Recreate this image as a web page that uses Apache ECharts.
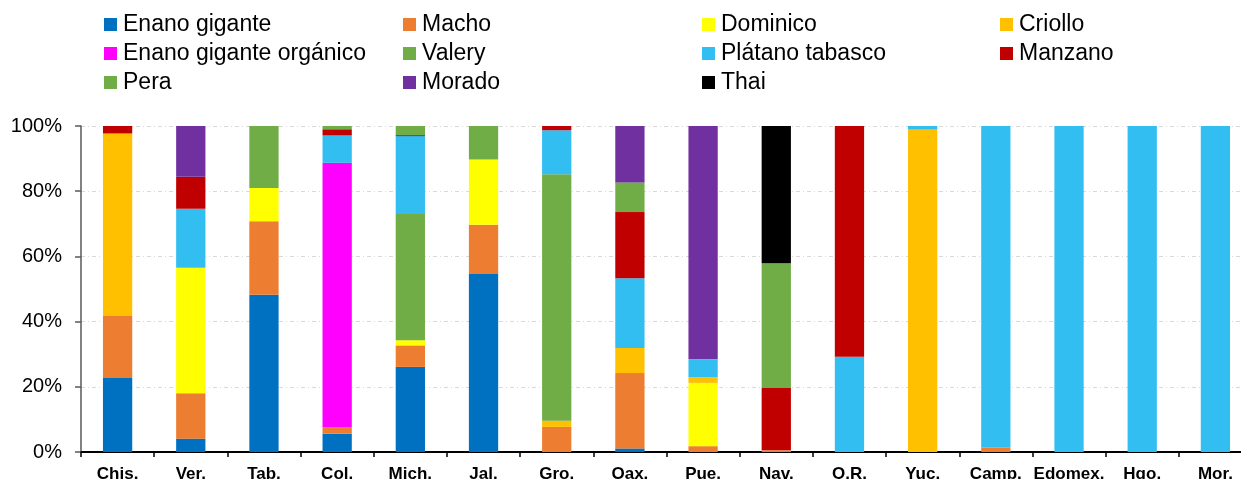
<!DOCTYPE html>
<html>
<head>
<meta charset="utf-8">
<script src="https://cdn.jsdelivr.net/npm/echarts@6/dist/echarts.min.js"></script>
<style>
  html, body { margin: 0; padding: 0; background: #fff; }
  #chart { width: 1241px; height: 479px; }
</style>
</head>
<body>
<div id="chart"></div>
<script>
// States (x axis)
var categories = ['Chis.', 'Ver.', 'Tab.', 'Col.', 'Mich.', 'Jal.', 'Gro.', 'Oax.', 'Pue.', 'Nav.', 'Q.R.', 'Yuc.', 'Camp.', 'Edomex.', 'Hgo.', 'Mor.'];

// Share of each banana variety per state (%)
var enanoGigante   = [22.7, 4.1, 48.2, 5.6, 26.1, 54.6, 0, 1.1, 0, 0, 0, 0, 0, 0, 0, 0];
var macho          = [19.0, 13.9, 22.6, 2.0, 6.6, 15.1, 7.7, 23.1, 1.8, 0.5, 0, 0, 1.4, 0, 0, 0];
var dominico       = [0, 38.5, 10.2, 0, 1.6, 20.0, 0, 0, 19.4, 0, 0, 0, 0, 0, 0, 0];
var criollo        = [56.0, 0, 0, 0, 0, 0, 1.9, 7.7, 1.7, 0, 0, 98.9, 0, 0, 0, 0];
var enanoOrganico  = [0, 0, 0, 81.1, 0, 0, 0, 0, 0, 0, 0, 0, 0, 0, 0, 0];
var valery         = [0, 0, 19.0, 0, 38.7, 10.3, 75.6, 0, 0, 0, 0, 0, 0, 0, 0, 0];
var platanoTabasco = [0, 18.1, 0, 8.4, 23.9, 0, 13.5, 21.4, 5.6, 0, 29.2, 1.1, 98.6, 100, 100, 100];
var manzano        = [2.3, 9.8, 0, 1.9, 0.3, 0, 1.3, 20.3, 0, 19.1, 70.8, 0, 0, 0, 0, 0];
var pera           = [0, 0, 0, 1.0, 2.8, 0, 0, 9.1, 0, 38.3, 0, 0, 0, 0, 0, 0];
var morado         = [0, 15.6, 0, 0, 0, 0, 0, 17.3, 71.5, 0, 0, 0, 0, 0, 0, 0];
var thai           = [0, 0, 0, 0, 0, 0, 0, 0, 0, 42.1, 0, 0, 0, 0, 0, 0];

// Y axis ticks
var yTicks = [0, 20, 40, 60, 80, 100];

var seriesDefs = [
  { name: 'Enano gigante', data: enanoGigante, color: '#0070C0' },
  { name: 'Macho', data: macho, color: '#ED7D31' },
  { name: 'Dominico', data: dominico, color: '#FFFF00' },
  { name: 'Criollo', data: criollo, color: '#FFC000' },
  { name: 'Enano gigante orgánico', data: enanoOrganico, color: '#FF00FF' },
  { name: 'Valery', data: valery, color: '#70AD47' },
  { name: 'Plátano tabasco', data: platanoTabasco, color: '#33BEF2' },
  { name: 'Manzano', data: manzano, color: '#C00000' },
  { name: 'Pera', data: pera, color: '#70AD47' },
  { name: 'Morado', data: morado, color: '#7030A0' },
  { name: 'Thai', data: thai, color: '#000000' }
];

var FONT = '"Liberation Sans", Arial, sans-serif';

function legendColumn(left, names) {
  return {
    orient: 'vertical',
    left: left,
    top: 13,
    itemWidth: 13,
    itemHeight: 13,
    itemGap: 6,
    icon: 'rect',
    padding: 0,
    data: names,
    textStyle: { fontFamily: FONT, fontSize: 23, color: '#000', lineHeight: 22, padding: [0, 0, 0, 1] }
  };
}

var chart = echarts.init(document.getElementById('chart'), null, { renderer: 'canvas' });

chart.setOption({
  animation: false,
  backgroundColor: '#ffffff',
  legend: [
    legendColumn(104, ['Enano gigante', 'Enano gigante orgánico', 'Pera']),
    legendColumn(403, ['Macho', 'Valery', 'Morado']),
    legendColumn(702, ['Dominico', 'Plátano tabasco', 'Thai']),
    legendColumn(1000, ['Criollo', 'Manzano'])
  ],
  // plot area runs slightly past the right edge, as the last column is clipped
  grid: { left: 81, top: 126, width: 1171, height: 326, containLabel: false, outerBoundsMode: 'none' },
  xAxis: {
    type: 'category',
    data: categories,
    boundaryGap: true,
    axisLine: { lineStyle: { color: '#000', width: 2 } },
    axisTick: { show: true, length: 5, lineStyle: { color: '#000', width: 1.5 } },
    axisLabel: { fontFamily: FONT, fontSize: 17, fontWeight: 'bold', color: '#000', margin: 14, interval: 0 },
    splitLine: { show: false }
  },
  yAxis: {
    type: 'value',
    min: yTicks[0],
    max: yTicks[yTicks.length - 1],
    interval: 20,
    axisLine: { show: true, lineStyle: { color: '#595959', width: 1.5 } },
    axisTick: { show: true, length: 6, lineStyle: { color: '#595959', width: 1.5 } },
    axisLabel: { fontFamily: FONT, fontSize: 20, color: '#000', margin: 19, formatter: function (v) { return v + '%'; } },
    splitLine: { show: true, lineStyle: { color: '#D9D9D9', type: [4, 3, 1, 3], width: 1 } }
  },
  series: seriesDefs.map(function (s) {
    return {
      name: s.name,
      type: 'bar',
      stack: 'total',
      barWidth: '40%',
      data: s.data,
      itemStyle: { color: s.color },
      emphasis: { disabled: true }
    };
  })
});
</script>
</body>
</html>
